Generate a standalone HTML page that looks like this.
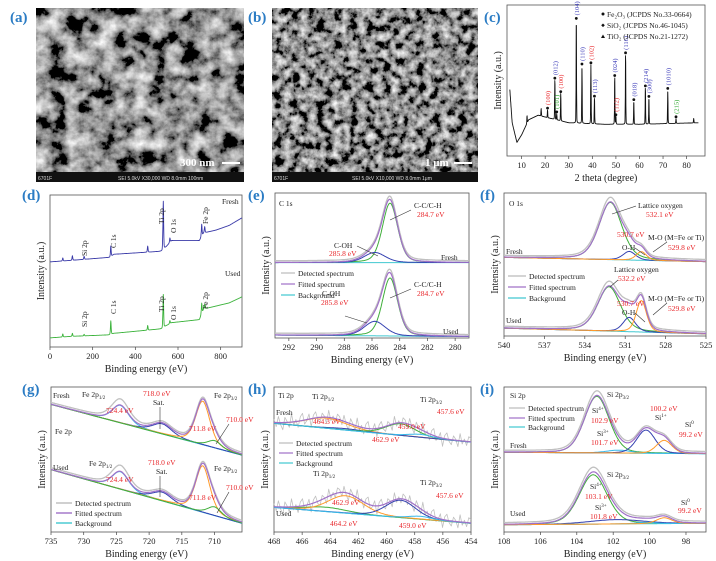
<!DOCTYPE html>
<html><head><meta charset="utf-8"><style>
html,body{margin:0;padding:0;background:#fff;}
svg{display:block;font-family:"Liberation Serif",serif;}
.pl{font-family:"Liberation Serif",serif;font-weight:bold;font-size:15px;fill:#2b7cc4;}
.tk{font-size:8.5px;fill:#222;}
.al{font-size:10px;fill:#222;}
.an{font-size:7.5px;fill:#222;}
.rd{font-size:7.5px;fill:#e8262a;}
</style></head><body>
<svg id="fig" width="716" height="561" viewBox="0 0 716 561">
<defs>
<filter id="semA" x="0" y="0" width="100%" height="100%">
<feTurbulence type="fractalNoise" baseFrequency="0.06" numOctaves="5" seed="3"/>
<feColorMatrix type="saturate" values="0"/>
<feComponentTransfer><feFuncR type="linear" slope="2.4" intercept="-0.9"/><feFuncG type="linear" slope="2.4" intercept="-0.9"/><feFuncB type="linear" slope="2.4" intercept="-0.9"/><feFuncA type="table" tableValues="1 1"/></feComponentTransfer>
</filter>
<filter id="semB" x="0" y="0" width="100%" height="100%">
<feTurbulence type="fractalNoise" baseFrequency="0.12" numOctaves="5" seed="7"/>
<feColorMatrix type="saturate" values="0"/>
<feComponentTransfer><feFuncR type="linear" slope="2.3" intercept="-0.88"/><feFuncG type="linear" slope="2.3" intercept="-0.88"/><feFuncB type="linear" slope="2.3" intercept="-0.88"/><feFuncA type="table" tableValues="1 1"/></feComponentTransfer>
</filter>
</defs>
<text class="pl" x="10" y="22">(a)</text>
<g>
<rect x="36" y="8" width="208" height="164" fill="#777" filter="url(#semA)"/>
<rect x="36" y="172" width="208" height="10" fill="#111"/>
<text x="38" y="180" fill="#ddd" font-size="5" font-family="Liberation Sans">6701F</text>
<text x="118" y="180" fill="#ddd" font-size="5" font-family="Liberation Sans">SEI   5.0kV   X30,000   WD 8.0mm   100nm</text>
<text x="180" y="166" fill="#fff" font-size="11" font-weight="bold">300 nm</text>
<rect x="222" y="162" width="18" height="2" fill="#fff"/>
</g>
<text class="pl" x="248" y="22">(b)</text>
<g>
<rect x="272" y="8" width="206" height="164" fill="#777" filter="url(#semB)"/>
<rect x="272" y="172" width="206" height="10" fill="#111"/>
<text x="274" y="180" fill="#ddd" font-size="5" font-family="Liberation Sans">6701F</text>
<text x="352" y="180" fill="#ddd" font-size="5" font-family="Liberation Sans">SEI   5.0kV   X10,000   WD 8.0mm   1μm</text>
<text x="425" y="166" fill="#fff" font-size="11" font-weight="bold">1 μm</text>
<rect x="454" y="162" width="18" height="2" fill="#fff"/>
</g>
<g id="plots"></g>
<text class="pl" x="484" y="22">(c)</text>
<text class="pl" x="22" y="200">(d)</text>
<text class="pl" x="248" y="200">(e)</text>
<text class="pl" x="480" y="200">(f)</text>
<text class="pl" x="22" y="394">(g)</text>
<text class="pl" x="248" y="394">(h)</text>
<text class="pl" x="480" y="394">(i)</text>
<g class="an" font-size="7">
<circle cx="603" cy="14" r="1.5" fill="#111"/><text x="607" y="17" class="an">Fe₂O₃ (JCPDS No.33-0664)</text>
<path d="M603 23.5l1.8 1.8-1.8 1.8-1.8-1.8z" fill="#111"/><text x="607" y="28" class="an">SiO₂ (JCPDS No.46-1045)</text>
<path d="M601 38h4l-2-3.5z" fill="#111"/><text x="607" y="39" class="an">TiO₂ (JCPDS No.21-1272)</text>
</g>
<text class="an" x="222" y="204">Fresh</text>
<text class="an" x="225" y="276">Used</text>
<g class="an">
<text transform="translate(87,256) rotate(-90)">Si 2p</text>
<text transform="translate(116,248) rotate(-90)">C 1s</text>
<text transform="translate(164,224) rotate(-90)">Ti 2p</text>
<text transform="translate(176,233) rotate(-90)">O 1s</text>
<text transform="translate(208,224) rotate(-90)">Fe 2p</text>
<text transform="translate(87,327) rotate(-90)">Si 2p</text>
<text transform="translate(116,314) rotate(-90)">C 1s</text>
<text transform="translate(164,312) rotate(-90)">Ti 2p</text>
<text transform="translate(176,320) rotate(-90)">O 1s</text>
<text transform="translate(208,309) rotate(-90)">Fe 2p</text>
</g>
<g>
<text class="an" x="279" y="206" font-size="8">C 1s</text>
<text class="an" x="414" y="208">C-C/C-H</text><text class="rd" x="417" y="217">284.7 eV</text>
<text class="an" x="334" y="248">C-OH</text><text class="rd" x="329" y="256">285.8 eV</text>
<text class="an" x="441" y="260">Fresh</text>
<text class="an" x="414" y="287">C-C/C-H</text><text class="rd" x="417" y="296">284.7 eV</text>
<text class="an" x="322" y="296">C-OH</text><text class="rd" x="321" y="305">285.8 eV</text>
<text class="an" x="443" y="334">Used</text>
<line x1="411" y1="210" x2="390" y2="220" stroke="#333" stroke-width="0.6"/>
<line x1="357" y1="246" x2="378" y2="256" stroke="#333" stroke-width="0.6"/>
<line x1="411" y1="289" x2="390" y2="298" stroke="#333" stroke-width="0.6"/>
<line x1="345" y1="316" x2="367" y2="323" stroke="#333" stroke-width="0.6"/>
<line x1="281" y1="273" x2="295" y2="273" stroke="#bbb" stroke-width="1.2"/><text class="an" x="298" y="276">Detected spectrum</text>
<line x1="281" y1="284" x2="295" y2="284" stroke="#a070c8" stroke-width="1.2"/><text class="an" x="298" y="287">Fitted spectrum</text>
<line x1="281" y1="295" x2="295" y2="295" stroke="#40c8d0" stroke-width="1.2"/><text class="an" x="298" y="298">Background</text>
</g>
<g>
<text class="an" x="509" y="206" font-size="8">O 1s</text>
<text class="an" x="638" y="208">Lattice oxygen</text><text class="rd" x="646" y="217">532.1 eV</text>
<text class="rd" x="617" y="237">530.7 eV</text><text class="an" x="622" y="250">O-H</text>
<text class="an" x="648" y="240">M-O (M=Fe or Ti)</text><text class="rd" x="668" y="250">529.8 eV</text>
<text class="an" x="506" y="254">Fresh</text>
<text class="an" x="614" y="272">Lattice oxygen</text><text class="rd" x="618" y="281">532.2 eV</text>
<text class="rd" x="617" y="306">530.7 eV</text><text class="an" x="622" y="315">O-H</text>
<text class="an" x="648" y="301">M-O (M=Fe or Ti)</text><text class="rd" x="668" y="311">529.8 eV</text>
<text class="an" x="506" y="323">Used</text>
<line x1="636" y1="206" x2="612" y2="214" stroke="#333" stroke-width="0.6"/>
<line x1="667" y1="242" x2="653" y2="252" stroke="#333" stroke-width="0.6"/>
<line x1="635" y1="248" x2="645" y2="255" stroke="#333" stroke-width="0.6"/>
<line x1="618" y1="280" x2="610" y2="287" stroke="#333" stroke-width="0.6"/>
<line x1="667" y1="303" x2="653" y2="315" stroke="#333" stroke-width="0.6"/>
<line x1="635" y1="313" x2="645" y2="322" stroke="#333" stroke-width="0.6"/>
<line x1="508" y1="276" x2="526" y2="276" stroke="#bbb" stroke-width="1.2"/><text class="an" x="529" y="279">Detected spectrum</text>
<line x1="508" y1="287" x2="526" y2="287" stroke="#a070c8" stroke-width="1.2"/><text class="an" x="529" y="290">Fitted spectrum</text>
<line x1="508" y1="298" x2="526" y2="298" stroke="#40c8d0" stroke-width="1.2"/><text class="an" x="529" y="301">Background</text>
</g>
<g>
<text class="an" x="53" y="398">Fresh</text><text class="an" x="82" y="397">Fe 2p<tspan font-size="5" dy="2">1/2</tspan></text>
<text class="rd" x="106" y="413">724.4 eV</text>
<text class="rd" x="143" y="396">718.0 eV</text><text class="an" x="153" y="405">Sat.</text>
<text class="an" x="214" y="398">Fe 2p<tspan font-size="5" dy="2">3/2</tspan></text>
<text class="rd" x="226" y="422">710.0 eV</text><text class="rd" x="189" y="431">711.8 eV</text>
<text class="an" x="55" y="434">Fe 2p</text>
<text class="an" x="53" y="470">Used</text><text class="an" x="89" y="466">Fe 2p<tspan font-size="5" dy="2">1/2</tspan></text>
<text class="rd" x="106" y="482">724.4 eV</text>
<text class="rd" x="148" y="465">718.0 eV</text><text class="an" x="156" y="474">Sat.</text>
<text class="an" x="214" y="471">Fe 2p<tspan font-size="5" dy="2">3/2</tspan></text>
<text class="rd" x="226" y="490">710.0 eV</text><text class="rd" x="189" y="500">711.8 eV</text>
<line x1="160" y1="407" x2="160" y2="429" stroke="#333" stroke-width="0.6"/>
<line x1="160" y1="476" x2="160" y2="497" stroke="#333" stroke-width="0.6"/>
<line x1="229" y1="424" x2="216" y2="444" stroke="#333" stroke-width="0.6"/>
<line x1="229" y1="492" x2="217" y2="513" stroke="#333" stroke-width="0.6"/>
<line x1="56" y1="503" x2="72" y2="503" stroke="#bbb" stroke-width="1.4"/><text class="an" x="75" y="506">Detected spectrum</text>
<line x1="56" y1="513" x2="72" y2="513" stroke="#a070c8" stroke-width="1.4"/><text class="an" x="75" y="516">Fitted spectrum</text>
<line x1="56" y1="523" x2="72" y2="523" stroke="#40c8d0" stroke-width="1.4"/><text class="an" x="75" y="526">Background</text>
</g>
<g>
<text class="an" x="278" y="398" font-size="8">Ti 2p</text>
<text class="an" x="312" y="399">Ti 2p<tspan font-size="5" dy="2">1/2</tspan></text>
<text class="an" x="420" y="402">Ti 2p<tspan font-size="5" dy="2">3/2</tspan></text>
<text class="rd" x="437" y="414">457.6 eV</text>
<text class="rd" x="313" y="424">464.3 eV</text><text class="rd" x="398" y="429">459.0 eV</text>
<text class="rd" x="372" y="442">462.9 eV</text>
<text class="an" x="276" y="415">Fresh</text>
<line x1="279" y1="443" x2="293" y2="443" stroke="#bbb" stroke-width="1.2"/><text class="an" x="296" y="446">Detected spectrum</text>
<line x1="279" y1="453" x2="293" y2="453" stroke="#a070c8" stroke-width="1.2"/><text class="an" x="296" y="456">Fitted spectrum</text>
<line x1="279" y1="463" x2="293" y2="463" stroke="#40c8d0" stroke-width="1.2"/><text class="an" x="296" y="466">Background</text>
<text class="an" x="313" y="476">Ti 2p<tspan font-size="5" dy="2">1/2</tspan></text>
<text class="an" x="420" y="485">Ti 2p<tspan font-size="5" dy="2">3/2</tspan></text>
<text class="rd" x="436" y="498">457.6 eV</text>
<text class="rd" x="332" y="505">462.9 eV</text><text class="rd" x="399" y="528">459.0 eV</text>
<text class="rd" x="330" y="526">464.2 eV</text>
<text class="an" x="276" y="516">Used</text>
</g>
<g>
<text class="an" x="510" y="398" font-size="8">Si 2p</text>
<text class="an" x="607" y="397">Si 2p<tspan font-size="5" dy="2">3/2</tspan></text>
<text class="an" x="592" y="413">Si<tspan font-size="5" dy="-3">4+</tspan></text><text class="rd" x="591" y="423">102.9 eV</text>
<text class="rd" x="650" y="411">100.2 eV</text><text class="an" x="655" y="420">Si<tspan font-size="5" dy="-3">1+</tspan></text>
<text class="an" x="685" y="427">Si<tspan font-size="5" dy="-3">0</tspan></text><text class="rd" x="679" y="437">99.2 eV</text>
<text class="an" x="597" y="436">Si<tspan font-size="5" dy="-3">3+</tspan></text><text class="rd" x="591" y="445">101.7 eV</text>
<text class="an" x="510" y="448">Fresh</text>
<line x1="509" y1="408" x2="525" y2="408" stroke="#bbb" stroke-width="1.2"/><text class="an" x="528" y="411">Detected spectrum</text>
<line x1="509" y1="418" x2="525" y2="418" stroke="#a070c8" stroke-width="1.2"/><text class="an" x="528" y="421">Fitted spectrum</text>
<line x1="509" y1="427" x2="525" y2="427" stroke="#40c8d0" stroke-width="1.2"/><text class="an" x="528" y="430">Background</text>
<text class="an" x="607" y="477">Si 2p<tspan font-size="5" dy="2">3/2</tspan></text>
<text class="an" x="590" y="489">Si<tspan font-size="5" dy="-3">4+</tspan></text><text class="rd" x="585" y="499">103.1 eV</text>
<text class="an" x="595" y="510">Si<tspan font-size="5" dy="-3">3+</tspan></text><text class="rd" x="590" y="519" font-size="5.5">101.8 eV</text>
<text class="an" x="681" y="505">Si<tspan font-size="5" dy="-3">0</tspan></text><text class="rd" x="678" y="513" font-size="5.5">99.2 eV</text>
<text class="an" x="510" y="516">Used</text>
</g>
</svg>
<script>
const xrdBaseTheta = [5, 6, 8, 10, 13, 17, 22, 30, 45, 60, 85];
const xrdBaseInt   = [44, 22, 9, 14, 24, 27, 25, 22, 21, 21, 22];
const xrdPeakTheta = [12.3, 18.3, 21.0, 24.1, 24.9, 26.6, 33.2, 35.6, 39.4, 40.9, 49.5, 50.0, 54.1, 57.6, 62.5, 64.0, 72.0, 75.5, 83];
const xrdPeakInt   = [5, 5, 5, 26, 4, 18, 68, 38, 39, 17, 31, 5, 46, 15, 24, 17, 22, 3, 3];
const xrdLabels    = ["", "", "(100)", "(012)", "(101)", "(100)", "(104)", "(110)", "(102)", "(113)", "(024)", "(112)", "(116)", "(018)", "(214)", "(300)", "(1010)", "(215)", ""];
const xrdLabelCol  = ["", "", "r", "b", "g", "r", "b", "b", "r", "b", "b", "r", "b", "b", "b", "b", "b", "g", ""];
const xrdTicks = [10, 20, 30, 40, 50, 60, 70, 80];

const svBgX      = [0, 100, 280, 300, 525, 545, 570, 700, 720, 780, 840, 900];
const svFreshBg  = [56, 57, 59, 61, 63, 66, 70, 70, 75, 77, 80, 85];
const svUsedBg   = [6, 7, 8, 9, 12, 14, 16, 18, 25, 27, 29, 33];
const svPeakX    = [60, 105, 160, 285, 458, 531, 562, 711, 725];
const svFreshH   = [2, 3, 2, 7, 4, 32, 3, 8, 4];
const svUsedH    = [2, 2, 1, 9, 3, 22, 2, 7, 3];
const svTicks = [0, 200, 400, 600, 800];

const eCenters = [284.7, 285.8];
const eWidths  = [1.3, 1.8];
const eFreshH  = [41, 7];
const eUsedH   = [40, 10];
const eBase    = [52, 1];
const eTicks = [292, 290, 288, 286, 284, 282, 280];

const fCenters = [532.1, 530.7, 529.8];
const fWidths  = [2.0, 1.1, 0.9];
const fFreshH  = [40, 6, 6];
const fUsedH   = [31, 10, 22];
const fUsedC0  = 532.2;
const fBase    = [53, 3.5];
const fTicks = [540, 537, 534, 531, 528, 525];

const gCenters = [724.4, 718.0, 711.8, 710.0];
const gWidths  = [3.0, 3.5, 2.6, 2.5];
const gFreshH  = [12, 7, 30, 5];
const gUsedH   = [12, 6, 32, 6];
const gBgL     = [88, 43];
const gBgR     = [53, 6];
const gTicks = [735, 730, 725, 720, 715, 710];

const hCenters = [464.3, 462.9, 459.0, 457.6];
const hWidths  = [3.5, 3.0, 2.5, 2.0];
const hFreshH  = [7, 1, 8, 2];
const hUsedH   = [3, 12, 12, 2];
const hBgL     = [75, 17];
const hBgR     = [62, 6];
const hNoise   = [3,-4,6,-2,-7,5,1,-5,8,-3,2,-6,4,7,-4,-1,5,-8,3,6,-2,-5,4,1,-6,7,-3,2,-4,5];
const hTicks = [468, 466, 464, 462, 460, 458, 456, 454];

const iCenters = [102.9, 101.7, 100.2, 99.2];
const iWidths  = [1.6, 1.6, 1.2, 1.0];
const iFreshH  = [39, 2, 16, 9];
const iUsedH   = [34, 3, 1, 4];
const iUsedC0  = 103.1;
const iBase    = [54, 7];
const iTicks = [108, 106, 104, 102, 100, 98];

const NS = "http://www.w3.org/2000/svg";
const root = document.getElementById('plots');
function mk(tag, attrs, parent){
  const el = document.createElementNS(NS, tag);
  for (const k in attrs) el.setAttribute(k, attrs[k]);
  (parent || root).appendChild(el);
  return el;
}
function pv(x, c, w, eta){
  const d = (x - c) / w;
  return (1 - eta) * Math.exp(-4 * Math.LN2 * d * d) + eta / (1 + 4 * d * d);
}
function interp(xs, ys, x){
  if (x <= xs[0]) return ys[0];
  for (let i = 1; i < xs.length; i++) if (x <= xs[i]) { const t = (x - xs[i-1]) / (xs[i] - xs[i-1]); return ys[i-1] + t * (ys[i] - ys[i-1]); }
  return ys[ys.length - 1];
}
function axesFor(box, x0, x1){
  const [l, t, r, b] = box;
  return { sx: x => l + (x - x0) / (x1 - x0) * (r - l), sy: v => b - v * (b - t) / 100, l, t, r, b };
}
function frame(ax, name, ticks, fmt, xlab, ylab){
  const f = mk('rect', {x: ax.l, y: ax.t, width: ax.r - ax.l, height: ax.b - ax.t, fill: 'none', stroke: '#555', 'stroke-width': 0.8});
  
  
  ticks.forEach(v => {
    const x = ax.sx(v);
    const tl = mk('line', {x1: x, x2: x, y1: ax.b, y2: ax.b + 3, stroke: '#444', 'stroke-width': 0.7});
    
    
    const tx = mk('text', {x: x, y: ax.b + 12, 'text-anchor': 'middle', class: 'tk'});
    tx.textContent = fmt ? fmt(v) : v;
    
    
  });
  const xl = mk('text', {x: (ax.l + ax.r) / 2, y: ax.b + 25, 'text-anchor': 'middle', class: 'al'});
  xl.textContent = xlab;
  
  
  const yl = mk('text', {transform: `translate(${ax.l - 6},${(ax.t + ax.b) / 2}) rotate(-90)`, 'text-anchor': 'middle', class: 'al'});
  yl.textContent = ylab;
  
  
}
function line(ax, xs, fn, color, w, name){
  let d = '';
  xs.forEach((x, i) => { d += (i ? 'L' : 'M') + ax.sx(x).toFixed(1) + ' ' + ax.sy(fn(x, i)).toFixed(1); });
  const p = mk('path', {d: d, fill: 'none', stroke: color, 'stroke-width': w, 'stroke-linejoin': 'round'});
  
  
  return p;
}
function range(a, b, n){ const o = []; for (let i = 0; i <= n; i++) o.push(a + (b - a) * i / n); return o; }

const COL = {det: '#c0c0c0', fit: '#a070c8', bg: '#40c8d0', green: '#3fae3a', blue: '#3340b0', orange: '#ff9a2a', cyan: '#38b8e8'};

(function(){
  const ax = axesFor([507, 5, 705, 156], 3.8, 87.8);
  frame(ax, 'xrd', xrdTicks, null, '2 theta (degree)', 'Intensity (a.u.)');
  const xs = range(5, 85, 1400);
  line(ax, xs, x => {
    let v = interp(xrdBaseTheta, xrdBaseInt, x);
    xrdPeakTheta.forEach((c, i) => { v += xrdPeakInt[i] * pv(x, c, 0.22, 0.2); });
    return v;
  }, '#111', 0.9, 'xrd-pattern');
  xrdPeakTheta.forEach((c, i) => {
    if (!xrdLabels[i]) return;
    const top = interp(xrdBaseTheta, xrdBaseInt, c) + xrdPeakInt[i];
    const m = mk('circle', {cx: ax.sx(c), cy: ax.sy(top) - 2, r: 1.4, fill: '#111'});
    
    
    const col = xrdLabelCol[i] === 'r' ? '#e8262a' : xrdLabelCol[i] === 'g' ? '#2aa52a' : '#3a3ab8';
    const t = mk('text', {transform: `translate(${ax.sx(c) + 2.5},${ax.sy(top) - 5}) rotate(-90)`, fill: col, 'font-size': 6.5});
    t.textContent = xrdLabels[i];
    
    
  });
})();

(function(){
  const ax = axesFor([50, 195, 242, 347], 0, 900);
  frame(ax, 'survey', svTicks, null, 'Binding energy (eV)', 'Intensity (a.u.)');
  const xs = range(0, 900, 900);
  line(ax, xs, x => { let v = interp(svBgX, svFreshBg, x); svPeakX.forEach((c, i) => { v += svFreshH[i] * pv(x, c, 4, 0.3); }); return v; }, '#3a3aa8', 0.9, 'survey-fresh-line');
  line(ax, xs, x => { let v = interp(svBgX, svUsedBg, x); svPeakX.forEach((c, i) => { v += svUsedH[i] * pv(x, c, 4, 0.3); }); return v; }, '#3cb33c', 0.9, 'survey-used-line');
})();

function xps(name, box, x0, x1, ticks, samples){
  const ax = axesFor(box, x0, x1);
  frame(ax, name, ticks, null, 'Binding energy (eV)', 'Intensity (a.u.)');
  const xs = range(x0, x1, 300);
  samples.forEach((s, si) => {
    const bg = x => s.bgL + (s.bgR - s.bgL) * (x - x0) / (x1 - x0);
    const sum = x => { let v = bg(x); s.c.forEach((c, k) => { v += s.h[k] * pv(x, c, s.w[k], s.eta); }); return v; };
    const dxs = s.noise ? range(x0, x1, 90) : xs;
    line(ax, dxs, (x, i) => sum(x) + (s.noise ? s.noise[i % s.noise.length] * s.nAmp : 1.2) + (s.shift || 0) * (pv(x, s.c[0], s.w[0] * 1.3, 0) ), COL.det, s.noise ? 0.8 : 1.3, name + '-' + s.id + '-detected');
    line(ax, xs, bg, COL.bg, 1, name + '-' + s.id + '-background');
    s.c.forEach((c, k) => {
      line(ax, xs, x => bg(x) + s.h[k] * pv(x, c, s.w[k], s.eta), s.col[k], 1, name + '-' + s.id + '-component-' + k);
    });
    line(ax, xs, sum, COL.fit, 1.2, name + '-' + s.id + '-fitted');
  });
}

xps('c1s', [275, 193, 469, 338], 293, 279, eTicks, [
  {id: 'fresh', c: eCenters, w: eWidths, h: eFreshH, eta: 0.3, bgL: eBase[0], bgR: eBase[0], col: [COL.green, COL.blue], shift: 1},
  {id: 'used',  c: eCenters, w: eWidths, h: eUsedH,  eta: 0.3, bgL: eBase[1] + 1, bgR: eBase[1], col: [COL.green, COL.blue], shift: 1}
]);
xps('o1s', [504, 193, 706, 336], 540, 525, fTicks, [
  {id: 'fresh', c: fCenters, w: fWidths, h: fFreshH, eta: 0.35, bgL: fBase[0] + 2, bgR: fBase[0] - 1, col: [COL.green, COL.blue, COL.orange], shift: 2},
  {id: 'used',  c: [fUsedC0, fCenters[1], fCenters[2]], w: fWidths, h: fUsedH, eta: 0.35, bgL: fBase[1] + 2, bgR: fBase[1] - 2, col: [COL.green, COL.blue, COL.orange], shift: 2}
]);
xps('fe2p', [51, 387, 242, 532], 735, 705.8, gTicks, [
  {id: 'fresh', c: gCenters, w: gWidths, h: gFreshH, eta: 0.4, bgL: gBgL[0], bgR: gBgR[0], col: [COL.cyan, COL.blue, COL.orange, COL.green], shift: 3},
  {id: 'used',  c: gCenters, w: gWidths, h: gUsedH,  eta: 0.4, bgL: gBgL[1], bgR: gBgR[1], col: [COL.cyan, COL.blue, COL.orange, COL.green], shift: 3}
]);
xps('ti2p', [274, 387, 471, 532], 468, 454, hTicks, [
  {id: 'fresh', c: hCenters, w: hWidths, h: hFreshH, eta: 0.2, bgL: hBgL[0], bgR: hBgR[0], col: [COL.orange, COL.blue, COL.green, COL.cyan], noise: hNoise, nAmp: 0.7},
  {id: 'used',  c: hCenters, w: hWidths, h: hUsedH,  eta: 0.2, bgL: hBgL[1], bgR: hBgR[1], col: [COL.green, COL.orange, COL.blue, COL.cyan], noise: hNoise, nAmp: 0.7}
]);
xps('si2p', [504, 387, 706, 532], 108, 96.9, iTicks, [
  {id: 'fresh', c: iCenters, w: iWidths, h: iFreshH, eta: 0.2, bgL: iBase[0] + 1, bgR: iBase[0], col: [COL.green, COL.cyan, COL.blue, COL.orange], shift: 2},
  {id: 'used',  c: [iUsedC0, 101.8, iCenters[2], iCenters[3]], w: [1.8, 3.5, 1.2, 1.0], h: iUsedH, eta: 0.25, bgL: iBase[1] - 2, bgR: iBase[1] - 1, col: [COL.green, COL.blue, COL.cyan, COL.orange], shift: 2}
]);
</script>
</body></html>
